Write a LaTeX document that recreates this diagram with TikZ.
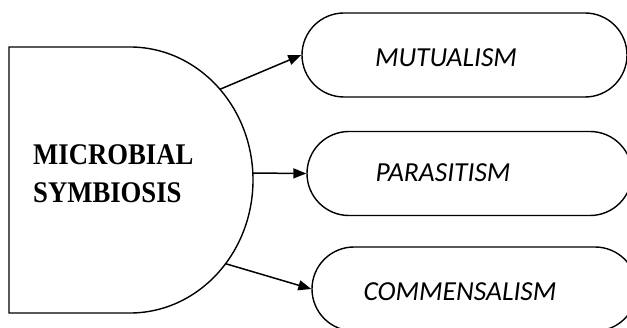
\documentclass[tikz,border=0pt]{standalone}
\usepackage{fontspec}
\setmainfont{Liberation Serif}
\newfontfamily\hostfont[FakeStretch=0.89]{Liberation Serif}
\newfontfamily\ovalfont{Carlito}
\usetikzlibrary{shapes.misc,arrows.meta}
\tikzset{
  oval/.style={draw, rounded rectangle, line width=1.4pt, minimum width=325pt, minimum height=84pt, inner sep=0pt},
  kind/.style={inner sep=0pt, anchor=base, font=\ovalfont\itshape\fontsize{27.5}{32}\selectfont},
  link/.style={line width=1.5pt, -{Triangle[length=13pt,width=10pt]}}
}
\begin{document}
\begin{tikzpicture}[x=1pt,y=1pt]
        \useasboundingbox (0,0) rectangle (627,327);

        \draw[line width=1.4pt] (9,280) -- (130,280) arc[start angle=90, end angle=-90, x radius=123, y radius=133] -- (9,14) -- cycle;
        \node[inner sep=0pt, anchor=west, align=left, font=\hostfont\bfseries\fontsize{30}{38}\selectfont] (host) at (33,153) {MICROBIAL\\SYMBIOSIS};

        \coordinate (ctr) at (130,147);
        \path (ctr) ++(43:123 and 133) coordinate (outA);
        \path (ctr) ++(3:123 and 133) coordinate (outB);
        \path (ctr) ++(-39:123 and 133) coordinate (outC);

        \node[oval] (mut) at (464.5,272) {};
        \node[oval] (par) at (469.5,153.5) {};
        \node[oval] (com) at (474.5,38) {};

        \node[kind] (mutText) at (446,260) {MUTUALISM};
        \node[kind] (parText) at (443,145) {PARASITISM};
        \node[kind] (comText) at (460,27) {COMMENSALISM};

        \draw[link] (outA) -- (mut.west);
        \draw[link] (outB) -- (par.west);
        \draw[link] (outC) -- (com.west);
      \end{tikzpicture}
\end{document}
